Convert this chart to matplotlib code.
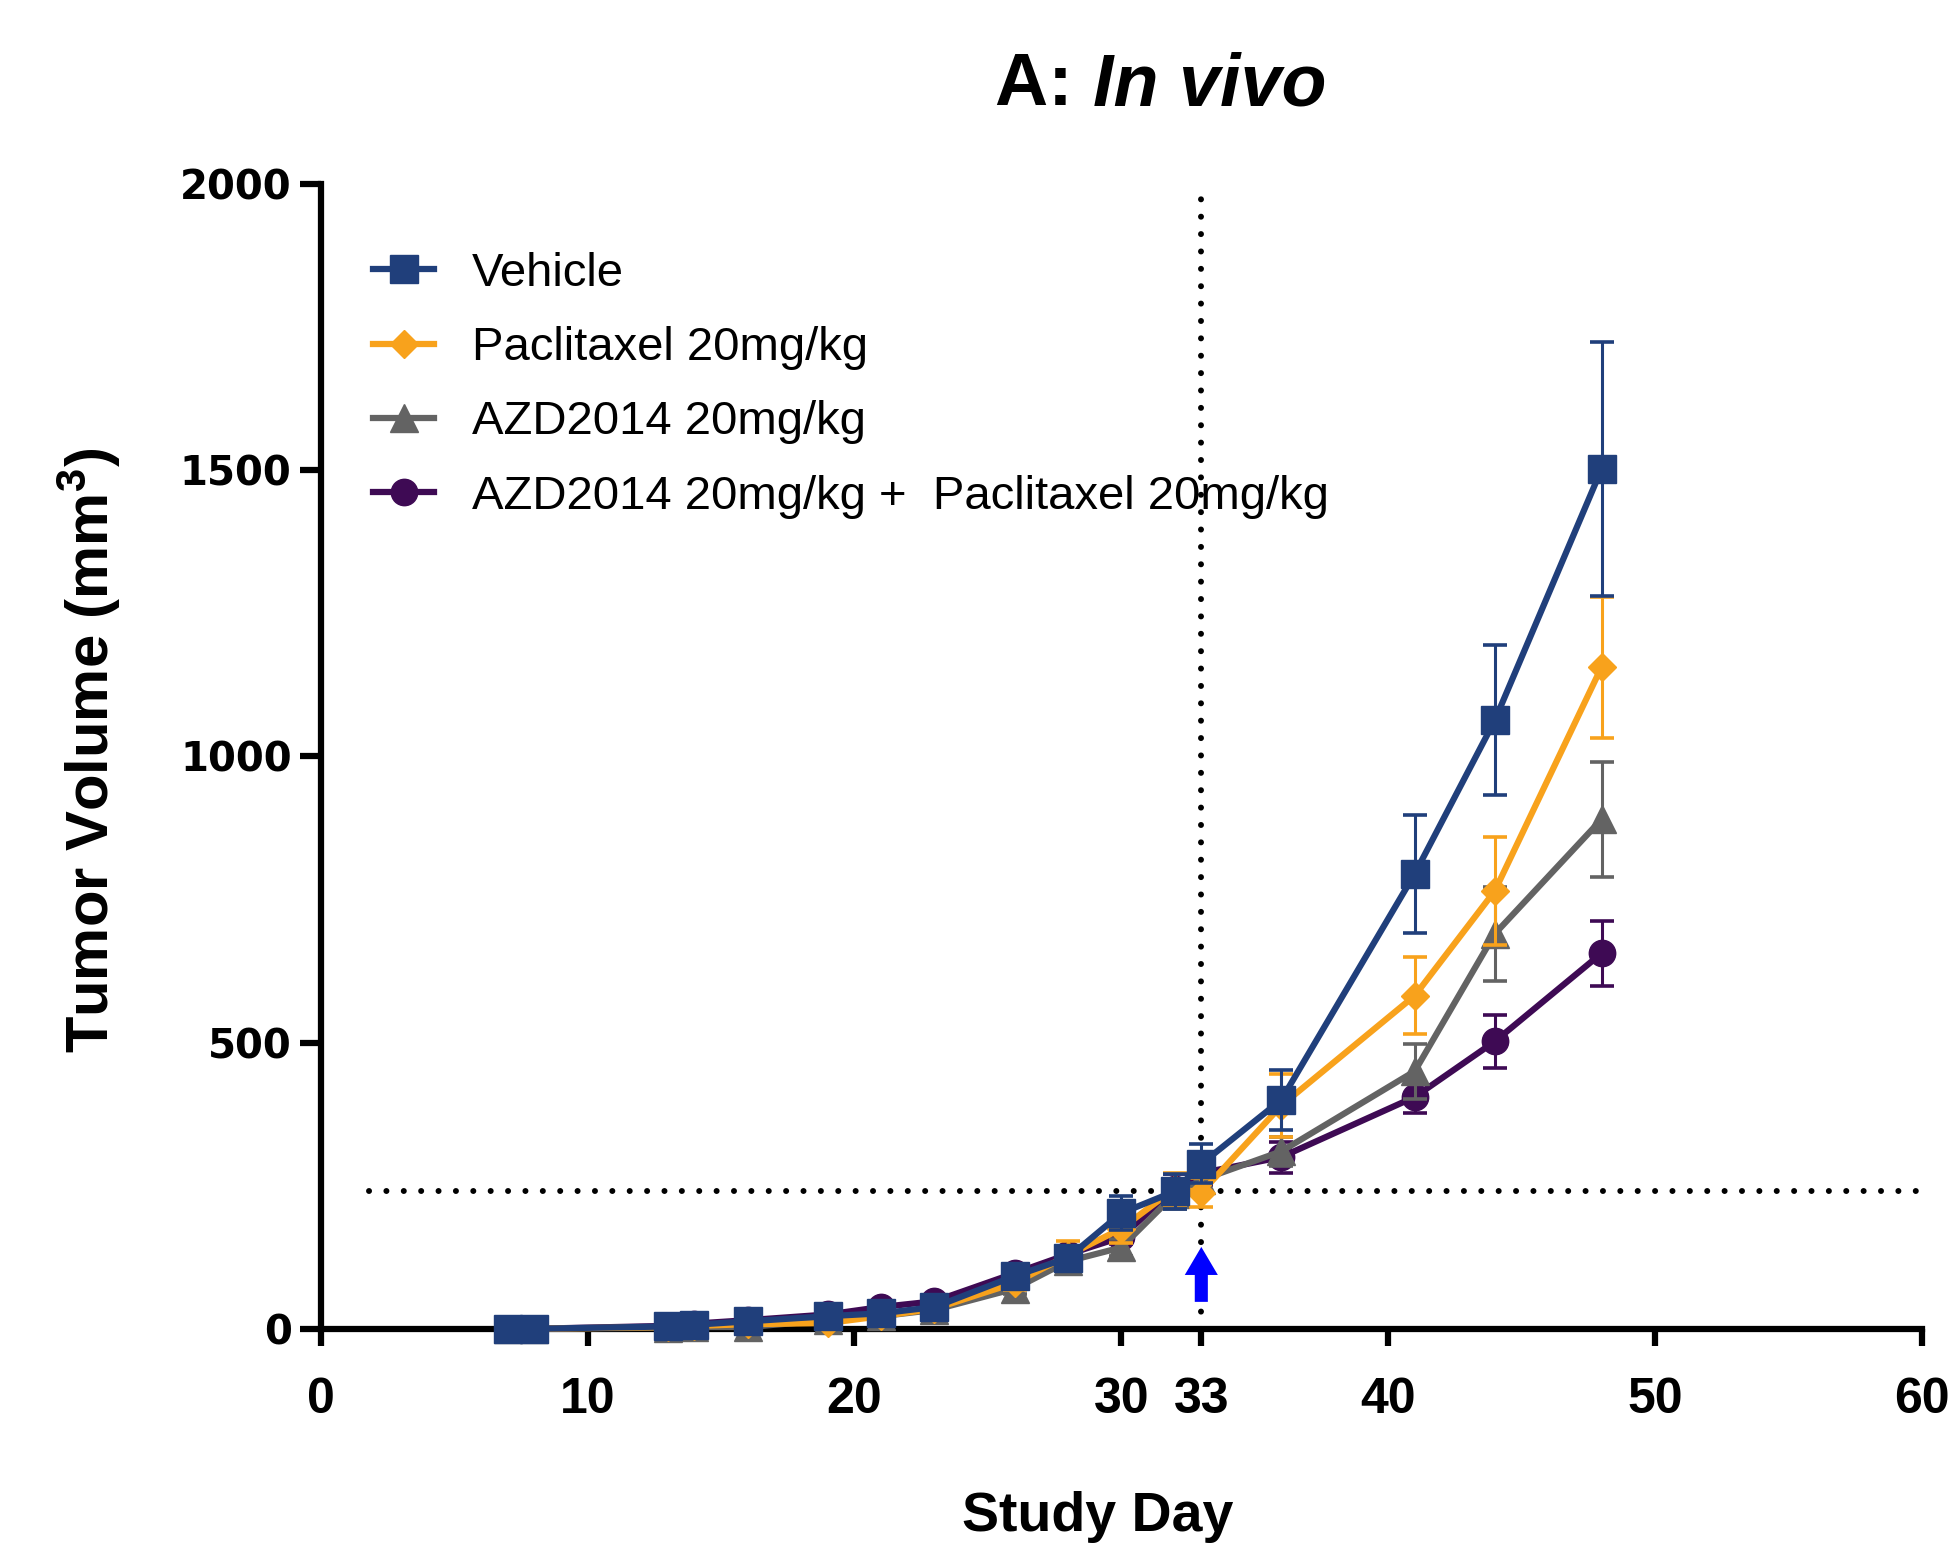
import numpy as np
import matplotlib.pyplot as plt
from matplotlib.lines import Line2D

plt.rcParams['font.family'] = ['Liberation Sans', 'DejaVu Sans']
plt.rcParams['mathtext.default'] = 'regular'

# study days (shared by all groups)
days = [7, 8, 13, 14, 16, 19, 21, 23, 26, 28, 30, 32, 33, 36, 41, 44, 48]

# mean tumor volume (mm3) and SEM
vehicle = [0, 0, 4, 7, 13, 22, 27, 38, 92, 124, 202, 240, 288, 400, 795, 1063, 1502]
vehicle_sem = [0, 0, 2, 3, 4, 5, 6, 8, 12, 15, 30, 30, 34, 52, 103, 131, 222]

paclitaxel = [0, 0, 3, 5, 8, 10, 22, 35, 80, 128, 175, 245, 238, 390, 582, 765, 1156]
paclitaxel_sem = [0, 0, 2, 2, 3, 4, 5, 8, 12, 25, 25, 28, 25, 55, 67, 95, 123]

azd2014 = [0, 0, 2, 3, 3, 15, 22, 33, 70, 118, 142, 235, 260, 310, 450, 690, 890]
azd2014_sem = [0, 0, 1, 2, 2, 4, 5, 7, 10, 14, 15, 25, 22, 25, 48, 82, 100]

combo = [0, 0, 5, 9, 15, 25, 38, 48, 97, 130, 160, 245, 272, 300, 405, 502, 656]
combo_sem = [0, 0, 2, 3, 4, 5, 6, 8, 10, 12, 12, 25, 20, 27, 28, 47, 57]

labels = ['Vehicle', 'Paclitaxel 20mg/kg', 'AZD2014 20mg/kg',
          'AZD2014 20mg/kg +  Paclitaxel 20mg/kg']

treat_day = 33      # start of treatment (dotted line + arrow)
threshold = 240     # dotted reference volume
arrow_base, arrow_tip = 47, 143

x_ticks = [0, 10, 20, 30, 33, 40, 50, 60]
y_ticks = [0, 500, 1000, 1500, 2000]

means = [vehicle, paclitaxel, azd2014, combo]
sems = [vehicle_sem, paclitaxel_sem, azd2014_sem, combo_sem]
colors = ['#203F7B', '#F8A21C', '#636363', '#3E0A54']
markers = ['s', 'D', '^', 'o']
msizes = [19.5, 14, 19.5, 19]

fig = plt.figure(figsize=(19.49, 15.44), dpi=100)
ax = fig.add_axes([0.1646, 0.1394, 0.8214, 0.7414])

# dotted reference lines
dots = (0, (0.01, 2.9))
ax.axvline(treat_day, color='black', lw=4.3, linestyle=dots,
           dash_capstyle='round', zorder=1)
ax.axhline(threshold, xmin=0.03, color='black', lw=4.3, linestyle=dots,
           dash_capstyle='round', zorder=1)

# groups, vehicle drawn last (on top)
for i in range(3, -1, -1):
    ax.errorbar(days, means[i], yerr=sems[i], color=colors[i], lw=4.5,
                marker=markers[i], ms=msizes[i],
                elinewidth=2.2, capsize=8.5, capthick=2.6,
                clip_on=False, zorder=4 + (3 - i))

# treatment arrow
ax.arrow(treat_day, arrow_base, 0, arrow_tip - arrow_base, width=0.49,
         head_width=1.24, head_length=49, length_includes_head=True,
         color='blue', lw=0, zorder=9)

ax.set_xlim(0, 60)
ax.set_ylim(0, 2000)

for s in ['top', 'right']:
    ax.spines[s].set_visible(False)
for s in ['left', 'bottom']:
    ax.spines[s].set_linewidth(4.5)

ax.set_xticks(x_ticks)
ax.set_xticklabels([str(v) for v in x_ticks], fontsize=36, fontweight='bold')
ax.set_yticks(y_ticks)
ax.set_yticklabels([str(v) for v in y_ticks], fontsize=29, fontweight='bold',
                   fontfamily='DejaVu Sans')
ax.tick_params(axis='x', length=12, width=4.5, pad=23)
ax.tick_params(axis='y', length=15, width=4.5, pad=6)

# legend
handles = [Line2D([], [], color=colors[i], lw=4.5, marker=markers[i],
                  ms=msizes[i]) for i in range(4)]
ax.legend(handles, labels, loc='upper left', frameon=False, fontsize=34,
          bbox_to_anchor=(373 / 1949, 1 - 252 / 1544),
          bbox_transform=fig.transFigure, borderaxespad=0, borderpad=0,
          handlelength=1.3, handletextpad=0.8, labelspacing=0.64)

# labels and title
fig.text(0.046, 0.514, 'Tumor Volume (mm$^{3}$)', rotation=90,
         ha='center', va='center', fontsize=43, fontweight='bold')
fig.text(0.563, 0.0084, 'Study Day', ha='center', va='baseline',
         fontsize=40, fontweight='bold')
fig.text(1093 / 1949, 1 - 105 / 1544, 'A: ', ha='right', va='baseline',
         fontsize=53, fontweight='bold')
fig.text(1093 / 1949, 1 - 105 / 1544, 'In vivo', ha='left', va='baseline',
         fontsize=53, fontweight='bold', style='italic')

fig.savefig('out.png', dpi=100)
